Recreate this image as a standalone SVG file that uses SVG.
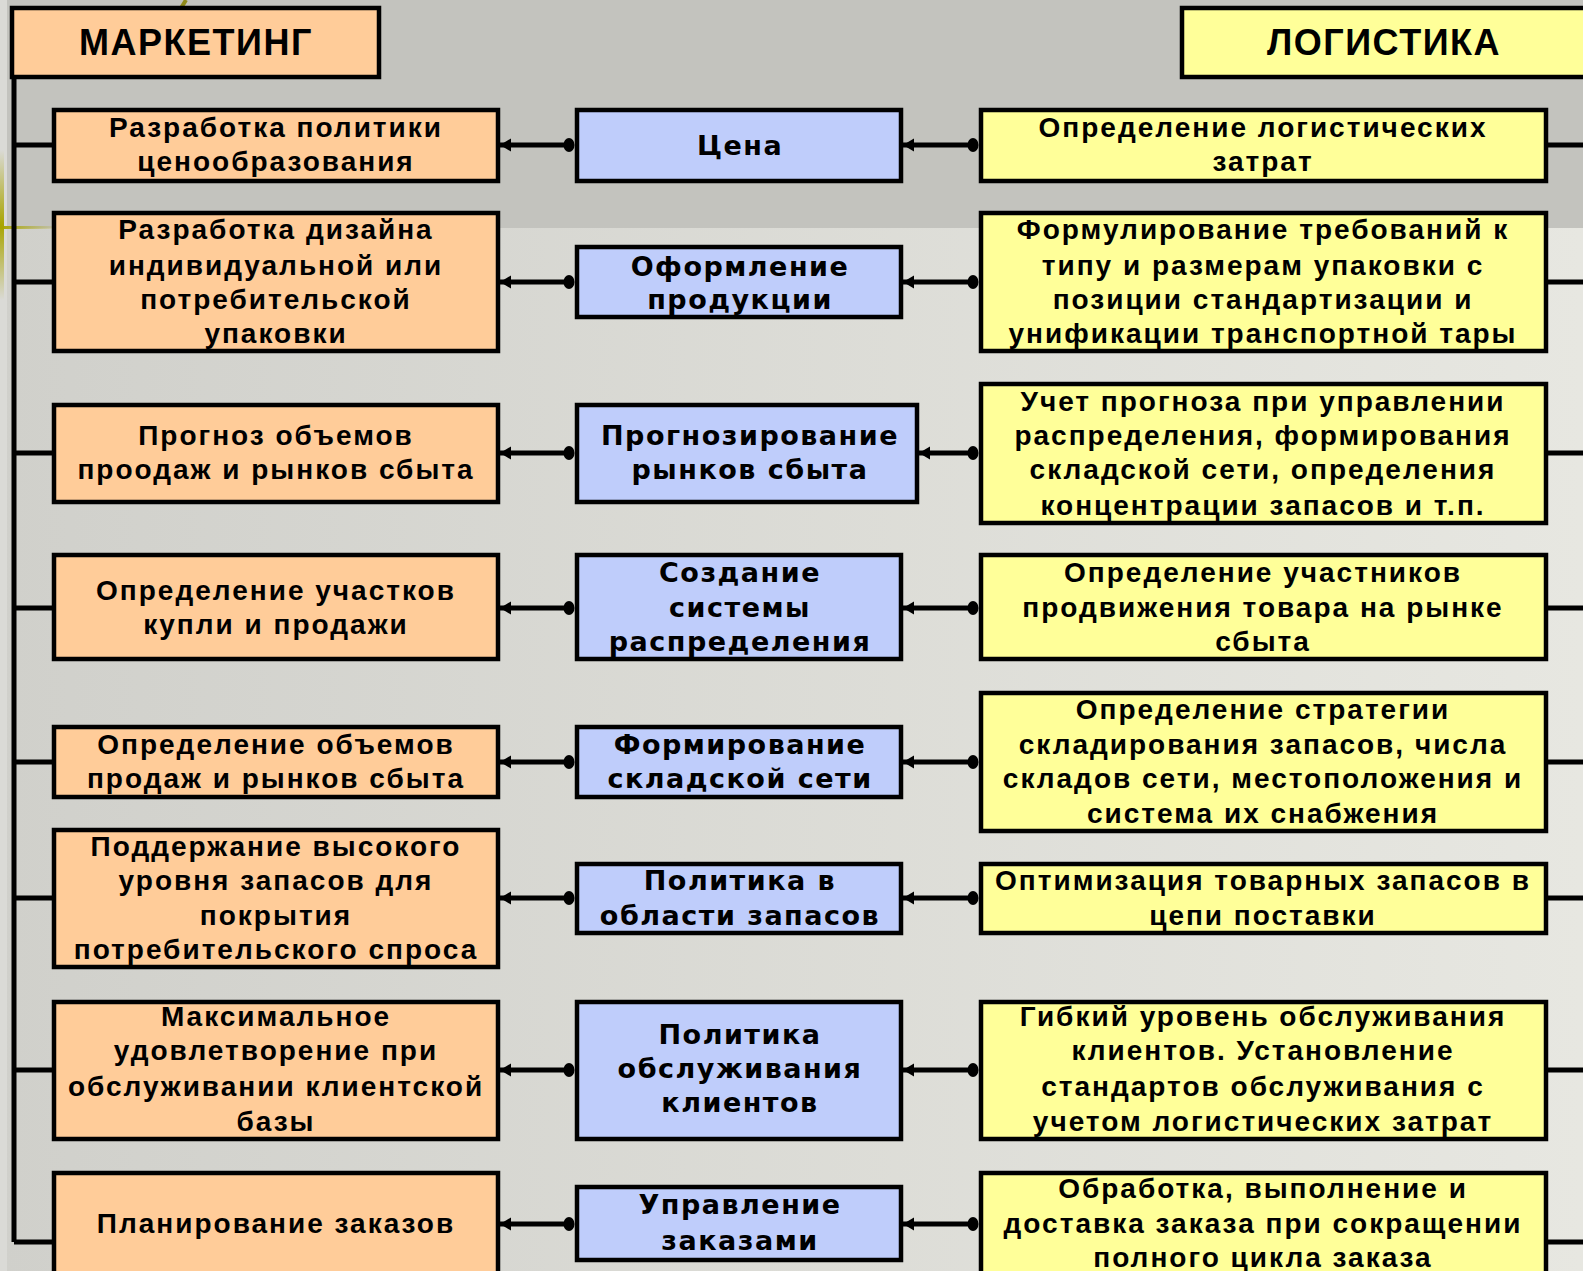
<svg xmlns="http://www.w3.org/2000/svg" width="1583" height="1271" viewBox="0 0 1583 1271">
<defs>
<linearGradient id="bgLow" x1="0" y1="0" x2="1" y2="0">
<stop offset="0" stop-color="#d0d0cb"/>
<stop offset="1" stop-color="#e7e7e1"/>
</linearGradient>
<linearGradient id="olH" x1="0" y1="0" x2="1" y2="0">
<stop offset="0" stop-color="#a8a400"/>
<stop offset="1" stop-color="#a8a400" stop-opacity="0"/>
</linearGradient>
<linearGradient id="olV" x1="0" y1="0" x2="0" y2="1">
<stop offset="0" stop-color="#a8a400" stop-opacity="0"/>
<stop offset="0.5" stop-color="#a8a400"/>
<stop offset="1" stop-color="#a8a400" stop-opacity="0"/>
</linearGradient>
<marker id="arr" markerUnits="userSpaceOnUse" markerWidth="14" markerHeight="16" refX="0" refY="8" orient="0">
<path d="M0,8 L11,1.5 L11,14.5 Z" fill="#000"/>
</marker>
<marker id="dot" markerUnits="userSpaceOnUse" markerWidth="16" markerHeight="18" refX="8" refY="9" orient="0">
<ellipse cx="8" cy="9" rx="5.5" ry="7" fill="#000"/>
</marker>
</defs>
<style>
.box{stroke:#000;stroke-width:4.5}
.or{fill:#ffcc99}
.bl{fill:#bfcdfb}
.ye{fill:#ffff99}
.t{font-family:"Liberation Sans",Arial,sans-serif;font-weight:bold;font-size:28px;letter-spacing:2px;text-anchor:middle;fill:#000}
.tb{font-family:"DejaVu Sans","Liberation Sans",sans-serif;font-weight:bold;font-size:27px;letter-spacing:1.5px;text-anchor:middle;fill:#000}
.h{font-family:"Liberation Sans",Arial,sans-serif;font-weight:bold;font-size:36px;letter-spacing:1.5px;text-anchor:middle;fill:#000}
.ln{stroke:#000;stroke-width:5;fill:none}
.cn{stroke:#000;stroke-width:5;fill:none;marker-start:url(#arr);marker-end:url(#dot)}
</style>

<g id="background">
<rect x="0" y="0" width="1583" height="1271" fill="url(#bgLow)"/>
<rect x="0" y="0" width="1583" height="228" fill="#c3c3be"/>
<rect x="0" y="0" width="7" height="1271" fill="#dadad6"/>
<rect x="0" y="150" width="4" height="150" fill="url(#olV)"/>
<rect x="0" y="226" width="60" height="3" fill="url(#olH)"/>
<path d="M186,0 L178,13" stroke="#8f8a1a" stroke-width="4"/>
</g>

<g id="connectors">
<path class="ln" d="M14,77 V1242 M14,145 H54 M14,282 H54 M14,453 H54 M14,608 H54 M14,762 H54 M14,898 H54 M14,1070 H54 M14,1242 H54"/>
<path class="ln" d="M1546,145 H1583 M1546,282 H1583 M1546,453 H1583 M1546,608 H1583 M1546,762 H1583 M1546,898 H1583 M1546,1070 H1583 M1546,1242 H1583"/>
<path class="cn" d="M500,145 H569"/>
<path class="cn" d="M903,145 H973"/>
<path class="cn" d="M500,282 H569"/>
<path class="cn" d="M903,282 H973"/>
<path class="cn" d="M500,453 H569"/>
<path class="cn" d="M919,453 H973"/>
<path class="cn" d="M500,608 H569"/>
<path class="cn" d="M903,608 H973"/>
<path class="cn" d="M500,762 H569"/>
<path class="cn" d="M903,762 H973"/>
<path class="cn" d="M500,898 H569"/>
<path class="cn" d="M903,898 H973"/>
<path class="cn" d="M500,1070 H569"/>
<path class="cn" d="M903,1070 H973"/>
<path class="cn" d="M500,1224 H569"/>
<path class="cn" d="M903,1224 H973"/>
</g>

<g id="marketing">
<rect class="box or" x="12" y="8" width="367" height="69"/>
<text class="h" x="196" y="55">МАРКЕТИНГ</text>
</g>
<g id="logistics">
<rect class="box ye" x="1182" y="8" width="420" height="69"/>
<text class="h" x="1384" y="55">ЛОГИСТИКА</text>
</g>

<!-- Row 1 -->
<g id="m1"><rect class="box or" x="54" y="110" width="444" height="71"/>
<text class="t" x="276" y="137">Разработка политики</text>
<text class="t" x="276" y="171">ценообразования</text></g>
<g id="c1"><rect class="box bl" x="577" y="110" width="324" height="71"/>
<text class="tb" x="740" y="155">Цена</text></g>
<g id="l1"><rect class="box ye" x="981" y="110" width="565" height="71"/>
<text class="t" x="1263" y="137">Определение логистических</text>
<text class="t" x="1263" y="171">затрат</text></g>

<!-- Row 2 -->
<g id="m2"><rect class="box or" x="54" y="213" width="444" height="138"/>
<text class="t" x="276" y="239">Разработка дизайна</text>
<text class="t" x="276" y="275">индивидуальной или</text>
<text class="t" x="276" y="309">потребительской</text>
<text class="t" x="276" y="343">упаковки</text></g>
<g id="c2"><rect class="box bl" x="577" y="247" width="324" height="70"/>
<text class="tb" x="740" y="276">Оформление</text>
<text class="tb" x="740" y="309">продукции</text></g>
<g id="l2"><rect class="box ye" x="981" y="213" width="565" height="138"/>
<text class="t" x="1263" y="239">Формулирование требований к</text>
<text class="t" x="1263" y="275">типу и размерам упаковки с</text>
<text class="t" x="1263" y="309">позиции стандартизации и</text>
<text class="t" x="1263" y="343">унификации транспортной тары</text></g>

<!-- Row 3 -->
<g id="m3"><rect class="box or" x="54" y="405" width="444" height="97"/>
<text class="t" x="276" y="445">Прогноз объемов</text>
<text class="t" x="276" y="479">проодаж и рынков сбыта</text></g>
<g id="c3"><rect class="box bl" x="577" y="405" width="340" height="97"/>
<text class="tb" x="750" y="445">Прогнозирование</text>
<text class="tb" x="750" y="479">рынков сбыта</text></g>
<g id="l3"><rect class="box ye" x="981" y="384" width="565" height="139"/>
<text class="t" x="1263" y="411">Учет прогноза при управлении</text>
<text class="t" x="1263" y="445">распределения, формирования</text>
<text class="t" x="1263" y="479">складской сети, определения</text>
<text class="t" x="1263" y="515">концентрации запасов и т.п.</text></g>

<!-- Row 4 -->
<g id="m4"><rect class="box or" x="54" y="555" width="444" height="104"/>
<text class="t" x="276" y="600">Определение участков</text>
<text class="t" x="276" y="634">купли и продажи</text></g>
<g id="c4"><rect class="box bl" x="577" y="555" width="324" height="104"/>
<text class="tb" x="740" y="582">Создание</text>
<text class="tb" x="740" y="617">системы</text>
<text class="tb" x="740" y="651">распределения</text></g>
<g id="l4"><rect class="box ye" x="981" y="555" width="565" height="104"/>
<text class="t" x="1263" y="582">Определение участников</text>
<text class="t" x="1263" y="617">продвижения товара на рынке</text>
<text class="t" x="1263" y="651">сбыта</text></g>

<!-- Row 5 -->
<g id="m5"><rect class="box or" x="54" y="727" width="444" height="70"/>
<text class="t" x="276" y="754">Определение объемов</text>
<text class="t" x="276" y="788">продаж и рынков сбыта</text></g>
<g id="c5"><rect class="box bl" x="577" y="727" width="324" height="70"/>
<text class="tb" x="740" y="754">Формирование</text>
<text class="tb" x="740" y="788">складской сети</text></g>
<g id="l5"><rect class="box ye" x="981" y="693" width="565" height="138"/>
<text class="t" x="1263" y="719">Определение стратегии</text>
<text class="t" x="1263" y="754">складирования запасов, числа</text>
<text class="t" x="1263" y="788">складов сети, местоположения и</text>
<text class="t" x="1263" y="823">система их снабжения</text></g>

<!-- Row 6 -->
<g id="m6"><rect class="box or" x="54" y="830" width="444" height="137"/>
<text class="t" x="276" y="856">Поддержание высокого</text>
<text class="t" x="276" y="890">уровня запасов для</text>
<text class="t" x="276" y="925">покрытия</text>
<text class="t" x="276" y="959">потребительского спроса</text></g>
<g id="c6"><rect class="box bl" x="577" y="864" width="324" height="69"/>
<text class="tb" x="740" y="890">Политика в</text>
<text class="tb" x="740" y="925">области запасов</text></g>
<g id="l6"><rect class="box ye" x="981" y="864" width="565" height="69"/>
<text class="t" x="1263" y="890">Оптимизация товарных запасов в</text>
<text class="t" x="1263" y="925">цепи поставки</text></g>

<!-- Row 7 -->
<g id="m7"><rect class="box or" x="54" y="1002" width="444" height="137"/>
<text class="t" x="276" y="1026">Максимальное</text>
<text class="t" x="276" y="1060">удовлетворение при</text>
<text class="t" x="276" y="1096">обслуживании клиентской</text>
<text class="t" x="276" y="1131">базы</text></g>
<g id="c7"><rect class="box bl" x="577" y="1002" width="324" height="137"/>
<text class="tb" x="740" y="1044">Политика</text>
<text class="tb" x="740" y="1078">обслуживания</text>
<text class="tb" x="740" y="1112">клиентов</text></g>
<g id="l7"><rect class="box ye" x="981" y="1002" width="565" height="137"/>
<text class="t" x="1263" y="1026">Гибкий уровень обслуживания</text>
<text class="t" x="1263" y="1060">клиентов. Установление</text>
<text class="t" x="1263" y="1096">стандартов обслуживания с</text>
<text class="t" x="1263" y="1131">учетом логистических затрат</text></g>

<!-- Row 8 -->
<g id="m8"><rect class="box or" x="54" y="1173" width="444" height="110"/>
<text class="t" x="276" y="1233">Планирование заказов</text></g>
<g id="c8"><rect class="box bl" x="577" y="1187" width="324" height="73"/>
<text class="tb" x="740" y="1214">Управление</text>
<text class="tb" x="740" y="1250">заказами</text></g>
<g id="l8"><rect class="box ye" x="981" y="1173" width="565" height="110"/>
<text class="t" x="1263" y="1198">Обработка, выполнение и</text>
<text class="t" x="1263" y="1233">доставка заказа при сокращении</text>
<text class="t" x="1263" y="1267">полного цикла заказа</text></g>
</svg>
